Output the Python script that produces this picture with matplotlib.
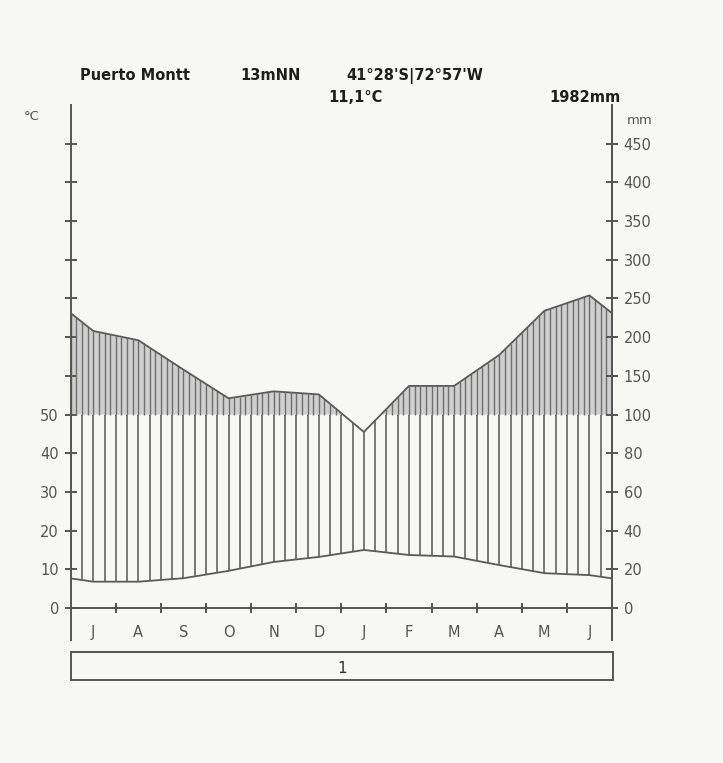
import numpy as np
import matplotlib
matplotlib.use("Agg")
import matplotlib.pyplot as plt

# ---- data ----
months = ['J', 'A', 'S', 'O', 'N', 'D', 'J', 'F', 'M', 'A', 'M', 'J']
temp_c = [6.8, 6.8, 7.7, 9.6, 11.9, 13.2, 15.0, 13.7, 13.3, 11.1, 9.0, 8.5]
precip_mm = [208, 196, 158, 121, 130, 126, 91, 137, 137, 177, 234, 254]
station = "Puerto Montt"
elevation = "13mNN"
coords = "41°28'S|72°57'W"
mean_temp = "11,1°C"
annual_precip = "1982mm"
temp_ticks = [0, 10, 20, 30, 40, 50]
precip_ticks_low = [0, 20, 40, 60, 80, 100]
precip_ticks_high = [150, 200, 250, 300, 350, 400, 450]
zone_label = "1"

INK = '#555555'
LINE = '#6e6e6e'
BG = '#f7f7f5'


def p_to_units(p):
    p = np.asarray(p, dtype=float)
    return np.where(p <= 100, p / 2.0, 50 + (p - 100) / 5.0)


fig = plt.figure(figsize=(7.23, 7.63), dpi=100, facecolor=BG)
ax = fig.add_axes([70.7 / 723, 123 / 763, (612 - 70.7) / 723, (658 - 123) / 763])
ax.set_facecolor(BG)
ax.set_xlim(0, 12)
ax.set_ylim(-8.27, 130)

# extended curves (values at month centres, edges wrap-around mean)
xc = np.arange(12) + 0.5
t = np.array(temp_c, dtype=float)
pu = p_to_units(precip_mm)
xe = np.concatenate([[0], xc, [12]])
te = np.concatenate([[(t[0] + t[-1]) / 2], t, [(t[0] + t[-1]) / 2]])
pe = np.concatenate([[(pu[0] + pu[-1]) / 2], pu, [(pu[0] + pu[-1]) / 2]])

# upper (perhumid) region: grey fill + dense lines
xf = np.linspace(0, 12, 600)
pf = np.interp(xf, xe, pe)
ax.fill_between(xf, 50, pf, where=pf > 50, color='#cfcfcf', lw=0, zorder=1)
xu = np.arange(0, 12.001, 0.125)
pu_l = np.interp(xu, xe, pe)
m = pu_l > 50
ax.vlines(xu[m], 50, pu_l[m], color=LINE, lw=1.0, zorder=2)

# humid region lines
xl = np.arange(0, 12.001, 0.25)
tl = np.interp(xl, xe, te)
pl = np.interp(xl, xe, pe)
ax.vlines(xl, tl, np.minimum(pl, 50), color=LINE, lw=1.3, zorder=2)

# curves
ax.plot(xe, pe, color='#5a5a5a', lw=1.3, zorder=3)
ax.plot(xe, te, color='#5a5a5a', lw=1.3, zorder=3)

# x axis line with month ticks
ax.plot([0, 12], [0, 0], color=INK, lw=1.4, zorder=4, clip_on=False)
ax.vlines(np.arange(1, 12), -1.3, 1.3, color=INK, lw=1.4, zorder=4)
for i, mname in enumerate(months):
    ax.text(i + 0.5, -6.3, mname, ha='center', va='center', fontsize=10.5,
            color=INK, family='DejaVu Sans')

# spines
for s in ['top', 'bottom']:
    ax.spines[s].set_visible(False)
for s in ['left', 'right']:
    ax.spines[s].set_color(INK)
    ax.spines[s].set_linewidth(1.4)

# left ticks (temperature)
lt_pos = temp_ticks + [50 + (p - 100) / 5.0 for p in precip_ticks_high]
lt_lab = [str(v) for v in temp_ticks] + [''] * len(precip_ticks_high)
ax.set_yticks(lt_pos)
ax.set_yticklabels(lt_lab)
ax.set_xticks([])
ax.tick_params(axis='y', direction='inout', length=9, width=1.4, color=INK,
               labelcolor=INK, labelsize=10.5, pad=4)

# right ticks (precipitation)
ax2 = ax.twinx()
ax2.set_ylim(ax.get_ylim())
rt_pos = [p / 2.0 for p in precip_ticks_low] + [50 + (p - 100) / 5.0 for p in precip_ticks_high]
rt_lab = [str(v) for v in precip_ticks_low + precip_ticks_high]
ax2.set_yticks(rt_pos)
ax2.set_yticklabels(rt_lab)
ax2.tick_params(axis='y', direction='inout', length=9, width=1.4, color=INK,
                labelcolor=INK, labelsize=10.5, pad=4)
for s in ['top', 'bottom', 'left']:
    ax2.spines[s].set_visible(False)
ax2.spines['right'].set_color(INK)
ax2.spines['right'].set_linewidth(1.4)

# unit labels
fig.text(32 / 723, 1 - 117 / 763, '°C', ha='center', va='center', fontsize=9.5, color=INK)
fig.text(640 / 723, 1 - 120 / 763, 'mm', ha='center', va='center', fontsize=9.5, color=INK)

# header
hkw = dict(fontweight='bold', color='#1e1e1e', va='center', family='DejaVu Sans', fontsize=10.5)
fig.text(80 / 723, 1 - 76 / 763, station, ha='left', **hkw)
fig.text(240 / 723, 1 - 76 / 763, elevation, ha='left', **hkw)
fig.text(346 / 723, 1 - 76 / 763, coords, ha='left', **hkw)
fig.text(328 / 723, 1 - 97 / 763, mean_temp, ha='left', **hkw)
fig.text(621 / 723, 1 - 97 / 763, annual_precip, ha='right', **hkw)

# zone box
axb = fig.add_axes([70.7 / 723, 83 / 763, (613 - 70.7) / 723, (111 - 83) / 763])
axb.set_facecolor(BG)
axb.set_xticks([])
axb.set_yticks([])
for s in axb.spines.values():
    s.set_color(INK)
    s.set_linewidth(1.4)
axb.text(0.5, 0.42, zone_label, ha='center', va='center', fontsize=11, color='#333333',
         transform=axb.transAxes)

fig.savefig('out.png', dpi=100, facecolor=BG)
